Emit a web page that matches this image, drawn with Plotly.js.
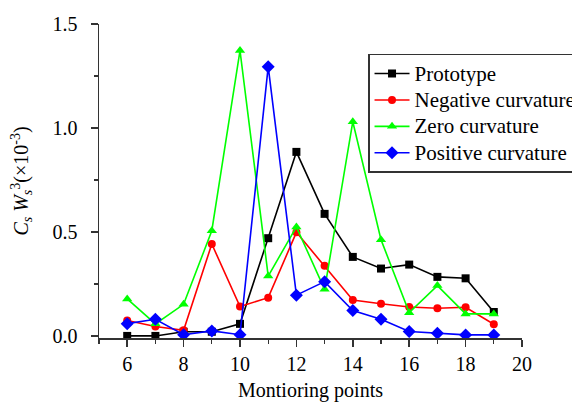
<!DOCTYPE html>
<html>
<head>
<meta charset="utf-8">
<script src="https://cdn.plot.ly/plotly-3.0.1.min.js"></script>
<style>html,body{margin:0;padding:0;background:#fff;}#chart{width:572px;height:402px;}</style>
</head>
<body>
<div id="chart"></div>
<script>
var points = [6, 7, 8, 9, 10, 11, 12, 13, 14, 15, 16, 17, 18, 19];
var prototype = [0.0, 0.0, 0.02, 0.02, 0.058, 0.47, 0.885, 0.587, 0.38, 0.324, 0.343, 0.284, 0.277, 0.115];
var negative = [0.074, 0.045, 0.027, 0.442, 0.141, 0.184, 0.498, 0.338, 0.173, 0.155, 0.139, 0.133, 0.138, 0.056];
var zero = [0.178, 0.058, 0.152, 0.506, 1.372, 0.288, 0.524, 0.224, 1.03, 0.463, 0.112, 0.242, 0.106, 0.106];
var positive = [0.059, 0.08, 0.006, 0.024, 0.006, 1.295, 0.196, 0.261, 0.122, 0.08, 0.021, 0.013, 0.005, 0.005];
var seriesNames = ['Prototype', 'Negative curvature', 'Zero curvature', 'Positive curvature'];
var xTicks = [6, 8, 10, 12, 14, 16, 18, 20];
var yTicks = [0, 0.5, 1.0, 1.5];
var yTickLabels = ['0.0', '0.5', '1.0', '1.5'];

var fontFam = 'Liberation Serif, Times New Roman, serif';
function tr(y, name, color, symbol, size) {
  return {x: points, y: y, name: '<span style="font-size:21px">' + name + '</span>',
    type: 'scatter', mode: 'lines+markers',
    line: {color: color, width: 1.6},
    marker: {color: color, symbol: symbol, size: size}};
}
var data = [
  tr(prototype, seriesNames[0], '#000000', 'square', 8),
  tr(negative, seriesNames[1], '#ff0000', 'circle', 8),
  tr(zero, seriesNames[2], '#00ff00', 'triangle-up', 9),
  tr(positive, seriesNames[3], '#0000ff', 'diamond', 10)
];
var layout = {
  width: 572, height: 402,
  margin: {l: 99, r: 50, t: 24, b: 64, autoexpand: false},
  paper_bgcolor: '#fff', plot_bgcolor: '#fff',
  font: {family: fontFam, size: 20, color: '#000'},
  showlegend: true,
  legend: {x: 0.636, y: 0.905, xanchor: 'left', yanchor: 'top',
    bgcolor: '#fff', bordercolor: '#333', borderwidth: 1.5,
    font: {family: fontFam, size: 18}, tracegroupgap: 0, itemwidth: 35},
  xaxis: {range: [5, 20], tickvals: xTicks, ticktext: xTicks.map(String),
    showgrid: false, zeroline: false, showline: true, linecolor: '#333', linewidth: 1.5,
    ticks: 'outside', ticklen: 7, tickwidth: 1.5, tickcolor: '#333',
    minor: {dtick: 1, tick0: 5, ticks: 'outside', ticklen: 4, tickwidth: 1.2, tickcolor: '#333', showgrid: false},
    tickfont: {family: fontFam, size: 20},
    title: {text: 'Montioring points', font: {family: fontFam, size: 20}, standoff: 9}},
  yaxis: {range: [-0.01, 1.5], tickvals: yTicks, ticktext: yTickLabels,
    showgrid: false, zeroline: false, showline: true, linecolor: '#333', linewidth: 1.5,
    ticks: 'outside', ticklen: 7, tickwidth: 1.5, tickcolor: '#333', ticklabelstandoff: 9,
    minor: {dtick: 0.25, tick0: 0, ticks: 'outside', ticklen: 4, tickwidth: 1.2, tickcolor: '#333', showgrid: false},
    tickfont: {family: fontFam, size: 20},
    title: {text: '<i>C</i><sub><i>s</i></sub><i> W</i><sub><i>s</i></sub><sup>3</sup>(×10<sup>-3</sup>)', font: {family: fontFam, size: 20}, standoff: 18}}
};
Plotly.newPlot('chart', data, layout, {displayModeBar: false, staticPlot: true});
</script>
</body>
</html>
